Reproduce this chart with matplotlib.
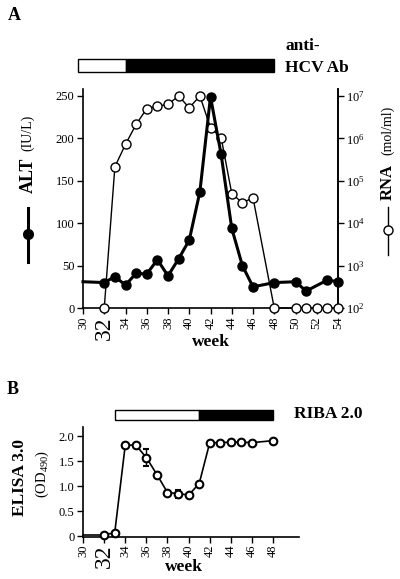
import matplotlib
matplotlib.use("Agg")
import matplotlib.pyplot as plt
import matplotlib.patches as patches
import matplotlib.transforms as transforms
from matplotlib.lines import Line2D
from matplotlib.ticker import FixedLocator, NullLocator

plt.rcParams['font.family'] = ['Liberation Serif', 'DejaVu Serif']
plt.rcParams['mathtext.fontset'] = 'custom'
plt.rcParams['mathtext.rm'] = 'Liberation Serif'
plt.rcParams['mathtext.it'] = 'Liberation Serif:italic'
plt.rcParams['mathtext.bf'] = 'Liberation Serif:bold'

# =====================================================================
# DATA
# =====================================================================
# panel A: ALT (left axis) and HCV RNA (right, log axis)
alt_weeks = [30, 32, 33, 34, 35, 36, 37, 38, 39, 40, 41, 42, 43, 44, 45, 46, 48, 50, 51, 53, 54]
alt_values = [31, 30, 37, 27, 41, 40, 57, 38, 58, 80, 137, 249, 181, 94, 50, 25, 30, 31, 20, 33, 31]

rna_weeks = [32, 33, 34, 35, 36, 37, 38, 39, 40, 41, 42, 43, 44, 45, 46, 48, 50, 51, 52, 53, 54]
rna_log10 = [2.0, 5.33, 5.86, 6.33, 6.70, 6.76, 6.80, 7.0, 6.72, 7.0, 6.25, 6.02, 4.70, 4.48, 4.60,
             2.0, 2.0, 2.0, 2.0, 2.0, 2.0]
rna_values = [10 ** v for v in rna_log10]

# anti-HCV Ab bar: (start week, end week, filled?)
ab_segments = [(29.5, 34, False), (34, 48, True)]

# panel B: ELISA 3.0 OD490
elisa_weeks = [30, 32, 33, 34, 35, 36, 37, 38, 39, 40, 41, 42, 43, 44, 45, 46, 48]
elisa_values = [0.03, 0.03, 0.06, 1.82, 1.82, 1.57, 1.23, 0.87, 0.85, 0.82, 1.05, 1.87, 1.87, 1.88,
                1.88, 1.87, 1.91]
elisa_err = [0, 0.03, 0.03, 0.04, 0.04, 0.17, 0.05, 0.03, 0.08, 0.03, 0.03, 0.03, 0.04, 0.04,
             0.03, 0.03, 0.04]

riba_segments = [(33, 41, False), (41, 48, True)]

week_ticks_a = list(range(30, 55, 2))
week_ticks_b = list(range(30, 49, 2))
alt_ticks = [0, 50, 100, 150, 200, 250]
rna_ticks = [1e2, 1e3, 1e4, 1e5, 1e6, 1e7]


# =====================================================================
# HELPERS
# =====================================================================
def px(x, y):
    """pixel position (from top-left) -> figure fraction"""
    return x / 400.0, 1 - y / 579.0


def draw_bar(ax, segments, y0, y1):
    trans = transforms.blended_transform_factory(ax.transData, ax.transAxes)
    for (a, b, filled) in segments:
        ax.add_patch(patches.Rectangle((a, y0), b - a, y1 - y0, transform=trans, clip_on=False,
                                       facecolor='black' if filled else 'white',
                                       edgecolor='black', linewidth=1.0))


def week_labels(ax, ticks):
    ax.xaxis.set_major_locator(FixedLocator(ticks))
    ax.set_xticklabels([str(t) for t in ticks], rotation=90, fontsize=9)
    for lab in ax.get_xticklabels():
        if lab.get_text() == '32':
            lab.set_fontsize(17)


fig = plt.figure(figsize=(4, 5.79), dpi=100)

# =====================================================================
# PANEL A
# =====================================================================
axA = fig.add_axes([0.2075, 0.468, 0.6375, 0.378])
axA.set_xlim(30, 54)
axA.set_ylim(0, 258)
axA.spines['top'].set_visible(False)
for s in ['left', 'right', 'bottom']:
    axA.spines[s].set_linewidth(1.2)
axA.yaxis.set_major_locator(FixedLocator(alt_ticks))
axA.set_yticklabels([str(t) for t in alt_ticks], fontsize=9)
week_labels(axA, week_ticks_a)
axA.tick_params(direction='out', length=4, width=1.0, pad=2)
fig.text(*px(211, 342), 'week', fontsize=12.5, fontweight='bold', ha='center', va='center')

axR = axA.twinx()
axR.set_yscale('log')
axR.set_ylim(1e2, 10 ** (2 + 258 / 250 * 5))
axR.spines['top'].set_visible(False)
axR.spines['left'].set_visible(False)
axR.spines['bottom'].set_visible(False)
axR.spines['right'].set_linewidth(1.2)
axR.yaxis.set_major_locator(FixedLocator(rna_ticks))
axR.yaxis.set_minor_locator(NullLocator())
axR.tick_params(axis='y', direction='out', length=4, width=1.0, pad=2, labelsize=9)

axR.plot(rna_weeks, rna_values, color='black', linewidth=1.0, marker='o', markersize=6.5,
         markerfacecolor='white', markeredgecolor='black', markeredgewidth=1.0, clip_on=False, zorder=3)
axR.plot(alt_weeks, [10 ** (2 + v / 250 * 5) for v in alt_values], color='black', linewidth=2.2,
         marker='o', markersize=6.5, markevery=list(range(1, len(alt_weeks))),
         solid_joinstyle='miter', clip_on=False, zorder=4)

draw_bar(axA, ab_segments, 1.078, 1.138)
fig.text(*px(285, 50), 'anti-', fontsize=12.5, fontweight='bold', ha='left', va='baseline')
fig.text(*px(285, 72), 'HCV Ab', fontsize=12.5, fontweight='bold', ha='left', va='baseline')
fig.text(*px(8, 20), 'A', fontsize=13, fontweight='bold', ha='left', va='baseline')

# left axis title with legend glyph
fig.text(*px(28, 175), 'ALT', rotation=90, fontsize=13, fontweight='bold', ha='center', va='center')
fig.text(*px(28, 133), '(IU/L)', rotation=90, fontsize=10, ha='center', va='center')
x0, y0 = px(28, 262)
x1, y1 = px(28, 208)
fig.add_artist(Line2D([x0, x1], [y0, y1], transform=fig.transFigure, color='black', linewidth=2.2))
fig.add_artist(Line2D([x0], [px(28, 234)[1]], transform=fig.transFigure, marker='o', markersize=7,
                      color='black'))

# right axis title with legend glyph
fig.text(*px(388, 182), 'RNA', rotation=90, fontsize=12, fontweight='bold', ha='center', va='center')
fig.text(*px(388, 130), '(mol/ml)', rotation=90, fontsize=10, ha='center', va='center')
x0, y0 = px(388, 255)
x1, y1 = px(388, 207)
fig.add_artist(Line2D([x0, x1], [y0, y1], transform=fig.transFigure, color='black', linewidth=1.0))
fig.add_artist(Line2D([x0], [px(388, 230)[1]], transform=fig.transFigure, marker='o', markersize=6.5,
                      markerfacecolor='white', markeredgecolor='black', color='black'))

# =====================================================================
# PANEL B
# =====================================================================
axB = fig.add_axes([0.2075, 0.0734, 0.54, 0.1897])
axB.set_xlim(30, 50.45)
axB.set_ylim(-0.01, 2.19)
axB.spines['top'].set_visible(False)
axB.spines['right'].set_visible(False)
for s in ['left', 'bottom']:
    axB.spines[s].set_linewidth(1.2)
axB.yaxis.set_major_locator(FixedLocator([0, 0.5, 1.0, 1.5, 2.0]))
axB.set_yticklabels(['0', '0.5', '1.0', '1.5', '2.0'], fontsize=9)
week_labels(axB, week_ticks_b)
axB.tick_params(direction='out', length=4, width=1.0, pad=2)
fig.text(*px(184, 567), 'week', fontsize=12.5, fontweight='bold', ha='center', va='center')

axB.plot(elisa_weeks[:2], elisa_values[:2], color='black', linewidth=1.2, clip_on=False)
axB.errorbar(elisa_weeks[1:], elisa_values[1:], yerr=elisa_err[1:], color='black', linewidth=1.2,
             elinewidth=1.0, capsize=2, marker='o', markersize=5.5, markerfacecolor='white',
             markeredgecolor='black', markeredgewidth=1.5, clip_on=False, zorder=3)

draw_bar(axB, riba_segments, 1.061, 1.152)
fig.text(*px(294, 418), 'RIBA 2.0', fontsize=12.5, fontweight='bold', ha='left', va='baseline')
fig.text(*px(7, 394), 'B', fontsize=13, fontweight='bold', ha='left', va='baseline')

fig.text(*px(20, 478), 'ELISA 3.0', rotation=90, fontsize=12.5, fontweight='bold', ha='center', va='center')
fig.text(*px(42, 474), '(OD$_{490}$)', rotation=90, fontsize=10.5, ha='center', va='center')

fig.savefig('out.png', dpi=100)
